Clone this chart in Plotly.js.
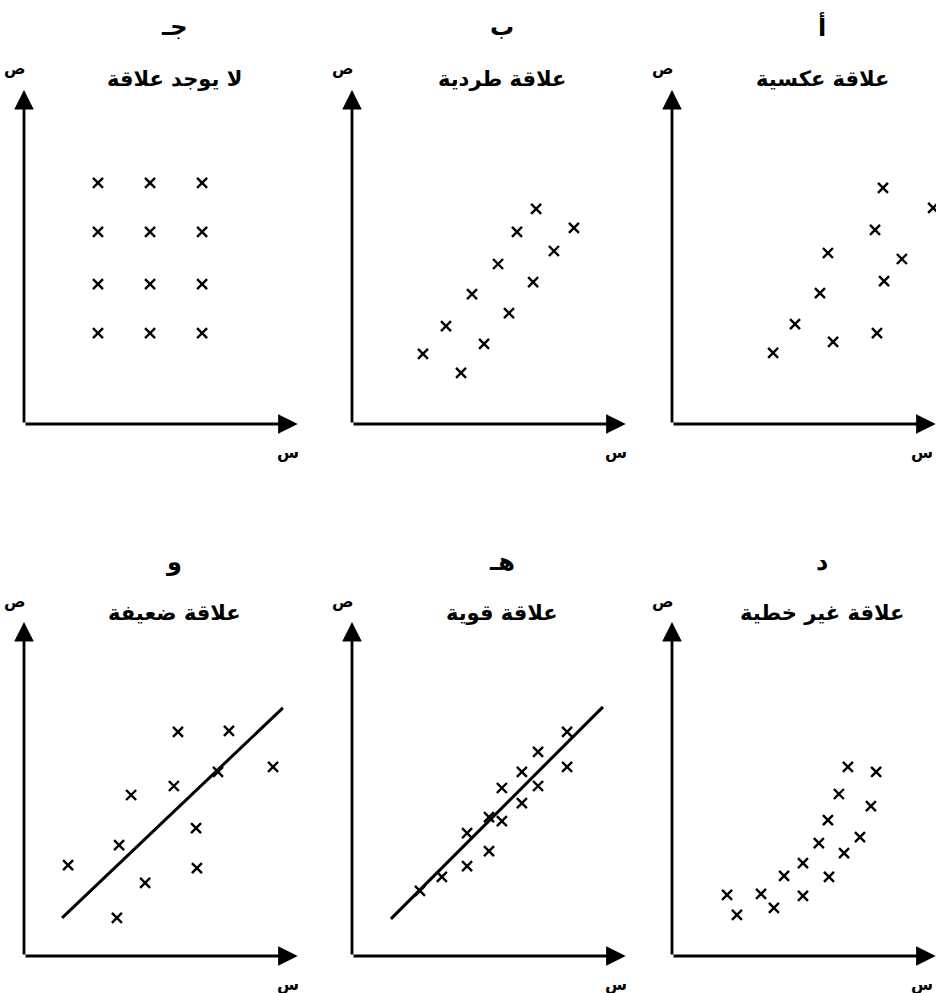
<!DOCTYPE html>
<html><head><meta charset="utf-8">
<script src="https://cdn.plot.ly/plotly-3.0.1.min.js"></script>
<style>html,body{margin:0;padding:0;background:#fff}</style>
</head><body><div id="chart" style="width:936px;height:993px"></div>
<script>
// ---- Data (x / y values, axis units 0..10) ----
// أ : علاقة عكسية
const aX = [7.70, 9.53, 7.41, 5.69, 8.39, 7.74, 5.40, 4.49, 5.88, 7.48, 3.69];
const aY = [7.07, 6.47, 5.81, 5.12, 4.94, 4.28, 3.92, 2.99, 2.46, 2.72, 2.13];
// ب : علاقة طردية
const bX = [6.72, 8.10, 6.02, 7.37, 5.33, 6.61, 4.38, 5.73, 3.43, 4.82, 2.59, 3.98];
const bY = [6.44, 5.87, 5.75, 5.18, 4.79, 4.25, 3.89, 3.32, 2.93, 2.40, 2.10, 1.53];
// ج : لا يوجد علاقة
const cX = [2.70, 4.60, 6.50, 2.70, 4.60, 6.50, 2.70, 4.60, 6.50, 2.70, 4.60, 6.50];
const cY = [7.22, 7.22, 7.22, 5.75, 5.75, 5.75, 4.19, 4.19, 4.19, 2.72, 2.72, 2.72];
// د : علاقة غير خطية
const dX = [6.42, 7.45, 6.09, 7.26, 5.69, 6.86, 5.36, 6.28, 4.78, 4.09, 5.73, 2.01, 3.25, 4.78, 2.37, 3.72];
const dY = [5.66, 5.51, 4.85, 4.49, 4.07, 3.56, 3.38, 3.08, 2.78, 2.40, 2.37, 1.83, 1.86, 1.80, 1.23, 1.44];
// هـ : علاقة قوية
const eX = [7.85, 6.79, 7.85, 6.20, 6.79, 5.47, 6.20, 5.00, 5.47, 4.20, 5.00, 4.20, 3.28, 2.48];
const eY = [6.71, 6.11, 5.66, 5.51, 5.09, 5.03, 4.58, 4.16, 4.04, 3.68, 3.14, 2.69, 2.37, 1.95];
const eLineX = [1.42, 9.16];
const eLineY = [1.11, 7.46];
// و : علاقة ضعيفة
const fX = [5.62, 7.48, 9.09, 7.08, 5.47, 3.91, 6.28, 3.47, 1.61, 6.31, 4.42, 3.39];
const fY = [6.71, 6.74, 5.66, 5.51, 5.09, 4.82, 3.83, 3.32, 2.72, 2.63, 2.19, 1.14];
const fLineX = [1.39, 9.45];
const fLineY = [1.14, 7.43];

// ---- Labels ----
const panelLetters = ['أ', 'ب', 'جـ', 'د', 'هـ', 'و'];
const panelTitles = ['علاقة عكسية', 'علاقة طردية', 'لا يوجد علاقة', 'علاقة غير خطية', 'علاقة قوية', 'علاقة ضعيفة'];
const yLabel = 'ص';
const xLabel = 'س';

// ---- Geometry ----
const W = 936, H = 993;
const PXU = 27.4;           // px per x unit
const colOrigin = [672, 352, 24];   // أ/د, ب/هـ, ج/و
const rowOrigin = [424, 956];
const rowTip = [90, 622];
const xTip = 10;

const panels = [
  {x: aX, y: aY, col: 0, row: 0},
  {x: bX, y: bY, col: 1, row: 0},
  {x: cX, y: cY, col: 2, row: 0},
  {x: dX, y: dY, col: 0, row: 1},
  {x: eX, y: eY, col: 1, row: 1, lx: eLineX, ly: eLineY},
  {x: fX, y: fY, col: 2, row: 1, lx: fLineX, ly: fLineY}
];

const traces = [];
const layout = {
  width: W, height: H,
  margin: {l: 0, r: 0, t: 0, b: 0},
  paper_bgcolor: '#fff', plot_bgcolor: 'rgba(0,0,0,0)',
  showlegend: false,
  annotations: [],
  font: {family: 'DejaVu Sans, sans-serif', color: '#000'}
};

const axBase = {showgrid: false, zeroline: false, showline: false, showticklabels: false, ticks: '', fixedrange: true};
const fontAr = 'DejaVu Sans, sans-serif';

panels.forEach((p, i) => {
  const n = i + 1;
  const xa = 'x' + (n === 1 ? '' : n), ya = 'y' + (n === 1 ? '' : n);
  const x0 = colOrigin[p.col];
  const x1 = Math.min(W, x0 + xTip * PXU);
  const xMax = (x1 - x0) / PXU;
  const yTop = rowTip[p.row], yBot = rowOrigin[p.row];
  layout['xaxis' + (n === 1 ? '' : n)] = Object.assign({}, axBase, {
    domain: [x0 / W, x1 / W], range: [0, xMax], anchor: ya
  });
  layout['yaxis' + (n === 1 ? '' : n)] = Object.assign({}, axBase, {
    domain: [(H - yBot) / H, (H - yTop) / H], range: [0, 10], anchor: xa
  });
  traces.push({
    type: 'scatter', mode: 'markers', x: p.x, y: p.y, xaxis: xa, yaxis: ya,
    cliponaxis: false, hoverinfo: 'skip',
    marker: {symbol: 'x-thin-open', size: 10, color: '#000', line: {color: '#000', width: 2.4}}
  });
  if (p.lx) {
    traces.push({
      type: 'scatter', mode: 'lines', x: p.lx, y: p.ly, xaxis: xa, yaxis: ya,
      cliponaxis: false, hoverinfo: 'skip', line: {color: '#000', width: 3}
    });
  }
  // axis arrows
  const arrowCommon = {xref: xa, yref: ya, axref: xa, ayref: ya, text: '', showarrow: true,
    arrowhead: 2, arrowwidth: 2.8, arrowsize: 1.4, arrowcolor: '#000', standoff: 0, startstandoff: 0};
  layout.annotations.push(Object.assign({}, arrowCommon, {x: 0, y: 10, ax: 0, ay: 0}));
  layout.annotations.push(Object.assign({}, arrowCommon, {x: Math.min(xTip, xMax - 0.01), y: 0, ax: 0, ay: 0}));

  // texts (paper coords)
  const cx = x0 + 150;
  const letterY = p.row === 0 ? 27 : 562;
  const titleY = p.row === 0 ? 79 : 613;
  layout.annotations.push({xref: 'paper', yref: 'paper', x: (cx) / W, y: 1 - letterY / H,
    text: '<b>' + panelLetters[i] + '</b>', showarrow: false, xanchor: 'center', yanchor: 'middle',
    font: {family: fontAr, size: 24, color: '#000'}});
  layout.annotations.push({xref: 'paper', yref: 'paper', x: (cx) / W, y: 1 - titleY / H,
    text: '<b>' + panelTitles[i] + '</b>', showarrow: false, xanchor: 'center', yanchor: 'middle',
    font: {family: fontAr, size: 21, color: '#000'}});
  layout.annotations.push({xref: 'paper', yref: 'paper', x: (x0 - 9) / W, y: 1 - (yTop - 21) / H,
    text: '<b>' + yLabel + '</b>', showarrow: false, xanchor: 'center', yanchor: 'middle',
    font: {family: fontAr, size: 16, color: '#000'}});
  layout.annotations.push({xref: 'paper', yref: 'paper', x: Math.min(x0 + 264, 922) / W, y: 1 - (yBot + 28) / H,
    text: '<b>' + xLabel + '</b>', showarrow: false, xanchor: 'center', yanchor: 'middle',
    font: {family: fontAr, size: 16, color: '#000'}});
});

Plotly.newPlot('chart', traces, layout, {staticPlot: true, displayModeBar: false});
</script>
</body></html>
